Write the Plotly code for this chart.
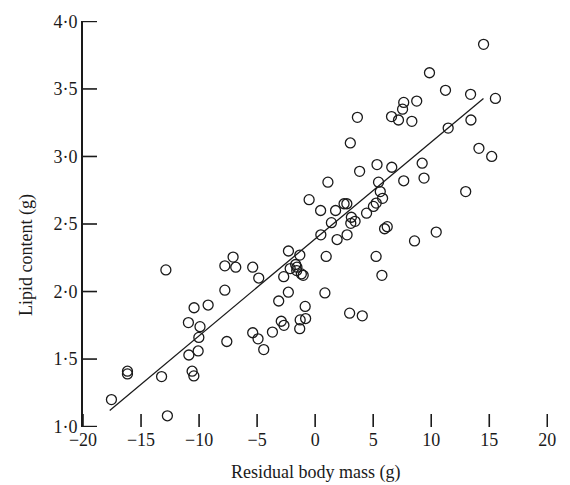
import plotly.graph_objects as go

# Residual body mass (g)
mass = [-17.55, -16.17, -16.17, -13.23, -12.86, -12.73, -10.92, -10.88, -10.60, -10.45,
        -10.43, -10.08, -10.02, -9.92, -9.22, -7.78, -7.78, -7.61, -7.07, -6.84,
        -5.38, -5.38, -4.86, -4.92, -4.43, -3.68, -3.14, -2.92, -2.69, -2.71,
        -2.30, -2.31, -2.15, -1.68, -1.57, -1.59, -1.32, -1.19, -1.03, -1.29,
        -0.82, -1.33, -0.86, -0.52, 0.47, 0.49, 0.95, 0.84, 1.10, 1.40,
        1.76, 1.89, 2.49, 2.73, 2.75, 2.97, 3.03, 3.12, 3.44, 3.07,
        3.64, 3.83, 4.06, 4.43, 5.02, 5.26, 5.33, 5.25, 5.46, 5.61,
        5.81, 5.75, 5.98, 6.21, 6.60, 6.58, 7.18, 7.63, 7.53, 7.63,
        8.33, 8.56, 8.75, 9.22, 9.38, 9.85, 10.43, 11.23, 11.46, 12.97,
        13.39, 13.42, 14.11, 14.51, 15.21, 15.53]
# Lipid content (g)
lipid = [1.20, 1.41, 1.39, 1.37, 2.16, 1.08, 1.77, 1.53, 1.41, 1.375,
         1.88, 1.56, 1.66, 1.74, 1.90, 2.01, 2.19, 1.63, 2.255, 2.18,
         2.18, 1.695, 2.10, 1.65, 1.57, 1.70, 1.93, 1.78, 1.75, 2.11,
         2.30, 1.995, 2.17, 2.20, 2.18, 2.155, 2.27, 2.13, 2.12, 1.79,
         1.80, 1.725, 1.89, 2.68, 2.60, 2.42, 2.26, 1.99, 2.81, 2.51,
         2.60, 2.385, 2.65, 2.65, 2.42, 1.84, 3.10, 2.55, 2.52, 2.505,
         3.29, 2.89, 1.82, 2.58, 2.63, 2.655, 2.94, 2.26, 2.81, 2.74,
         2.69, 2.12, 2.465, 2.48, 2.92, 3.295, 3.27, 3.40, 3.35, 2.82,
         3.26, 2.375, 3.41, 2.95, 2.84, 3.62, 2.44, 3.49, 3.21, 2.74,
         3.46, 3.27, 3.06, 3.83, 3.00, 3.43]

# Fitted regression line end points
fit_x = [-17.7, 14.5]
fit_y = [1.12, 3.43]

x_ticks = [-20, -15, -10, -5, 0, 5, 10, 15, 20]
x_ticktext = ["−20", "−15", "−10", "−5", "0", "5", "10", "15", "20"]
y_ticks = [1.0, 1.5, 2.0, 2.5, 3.0, 3.5, 4.0]
y_ticktext = ["1·0", "1·5", "2·0", "2·5", "3·0", "3·5", "4·0"]

FONT = "Liberation Serif, Times New Roman, serif"
INK = "#1a1a1a"

fig = go.Figure()
fig.add_trace(go.Scatter(
    x=mass, y=lipid, mode="markers",
    marker=dict(symbol="circle-open", size=10, color=INK, line=dict(width=1.3, color=INK)),
    showlegend=False,
))
fig.add_trace(go.Scatter(
    x=fit_x, y=fit_y, mode="lines",
    line=dict(color=INK, width=1.3), showlegend=False,
))

# Inward tick marks, placed on the axes' own scales (length given in pixels)
for v in x_ticks:
    fig.add_shape(type="line", xref="x", yref="paper", ysizemode="pixel", yanchor=0,
                  x0=v, x1=v, y0=0, y1=13, line=dict(color=INK, width=1.6), layer="above")
for v in y_ticks:
    fig.add_shape(type="line", yref="y", xref="paper", xsizemode="pixel", xanchor=0,
                  y0=v, y1=v, x0=0, x1=14, line=dict(color=INK, width=1.6), layer="above")

fig.update_layout(
    width=570, height=485,
    margin=dict(l=83, r=22, t=19, b=58),
    paper_bgcolor="white", plot_bgcolor="white",
    font=dict(family=FONT, size=18, color=INK),
    xaxis=dict(
        range=[-20.0, 20.06], showgrid=False, zeroline=False, showline=False,
        tickmode="array", tickvals=x_ticks, ticktext=x_ticktext, ticks="",
        tickfont=dict(family=FONT, size=18, color=INK),
    ),
    yaxis=dict(
        range=[0.997, 4.003], showgrid=False, zeroline=False,
        showline=True, linecolor=INK, linewidth=1.8,
        tickmode="array", tickvals=y_ticks, ticktext=y_ticktext, ticks="",
        tickfont=dict(family=FONT, size=18, color=INK),
    ),
    annotations=[
        dict(text="Residual body mass (g)", xref="paper", yref="paper",
             x=0.5, y=-0.113, xanchor="center", yanchor="middle", showarrow=False,
             font=dict(family=FONT, size=18, color=INK)),
        dict(text="Lipid content (g)", xref="paper", yref="paper",
             x=-0.12, y=0.424, xanchor="center", yanchor="middle", showarrow=False,
             textangle=-90, font=dict(family=FONT, size=18, color=INK)),
    ],
)

fig.write_html("out.html")
